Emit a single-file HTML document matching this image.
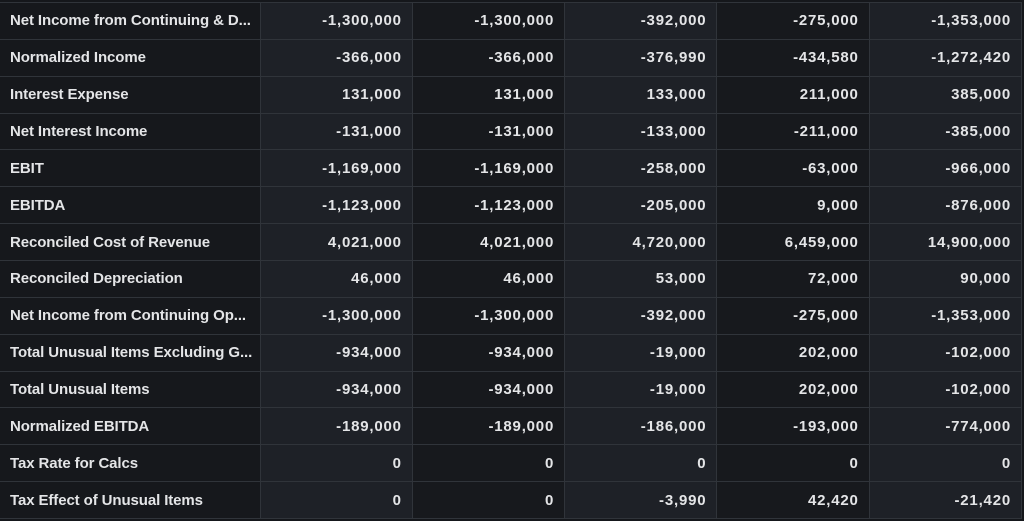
<!DOCTYPE html>
<html><head><style>
html,body{margin:0;padding:0;background:#15171b;width:1024px;height:521px;overflow:hidden;position:relative}
.r{position:absolute;left:0;width:1022px;height:36.86px;border-top:1px solid #30343a;box-sizing:border-box;display:flex;font-family:"Liberation Sans",sans-serif;font-size:15px;font-weight:bold;color:#e4e5e7}
.r div{height:100%;box-sizing:border-box;border-right:1px solid #30343a;display:flex;align-items:center;justify-content:flex-end;padding:0 10px;white-space:nowrap;overflow:hidden;letter-spacing:0.8px}
.r div:first-child{width:260.5px;justify-content:flex-start;background:#16181c;letter-spacing:-0.1px}
.r div:nth-child(n+2){width:152.3px}
.r div:nth-child(even){background:#1e2127}
.r div:nth-child(odd):not(:first-child){background:#17191d}
.end{position:absolute;left:0;top:518px;width:1022px;border-top:1px solid #30343a}
</style></head><body>
<div class="r" style="top:2px"><div>Net Income from Continuing &amp; D...</div><div>-1,300,000</div><div>-1,300,000</div><div>-392,000</div><div>-275,000</div><div>-1,353,000</div></div>
<div class="r" style="top:38.86px"><div>Normalized Income</div><div>-366,000</div><div>-366,000</div><div>-376,990</div><div>-434,580</div><div>-1,272,420</div></div>
<div class="r" style="top:75.72px"><div>Interest Expense</div><div>131,000</div><div>131,000</div><div>133,000</div><div>211,000</div><div>385,000</div></div>
<div class="r" style="top:112.58px"><div>Net Interest Income</div><div>-131,000</div><div>-131,000</div><div>-133,000</div><div>-211,000</div><div>-385,000</div></div>
<div class="r" style="top:149.44px"><div>EBIT</div><div>-1,169,000</div><div>-1,169,000</div><div>-258,000</div><div>-63,000</div><div>-966,000</div></div>
<div class="r" style="top:186.3px"><div>EBITDA</div><div>-1,123,000</div><div>-1,123,000</div><div>-205,000</div><div>9,000</div><div>-876,000</div></div>
<div class="r" style="top:223.16px"><div>Reconciled Cost of Revenue</div><div>4,021,000</div><div>4,021,000</div><div>4,720,000</div><div>6,459,000</div><div>14,900,000</div></div>
<div class="r" style="top:260.02px"><div>Reconciled Depreciation</div><div>46,000</div><div>46,000</div><div>53,000</div><div>72,000</div><div>90,000</div></div>
<div class="r" style="top:296.88px"><div>Net Income from Continuing Op...</div><div>-1,300,000</div><div>-1,300,000</div><div>-392,000</div><div>-275,000</div><div>-1,353,000</div></div>
<div class="r" style="top:333.74px"><div>Total Unusual Items Excluding G...</div><div>-934,000</div><div>-934,000</div><div>-19,000</div><div>202,000</div><div>-102,000</div></div>
<div class="r" style="top:370.6px"><div>Total Unusual Items</div><div>-934,000</div><div>-934,000</div><div>-19,000</div><div>202,000</div><div>-102,000</div></div>
<div class="r" style="top:407.46px"><div>Normalized EBITDA</div><div>-189,000</div><div>-189,000</div><div>-186,000</div><div>-193,000</div><div>-774,000</div></div>
<div class="r" style="top:444.32px"><div>Tax Rate for Calcs</div><div>0</div><div>0</div><div>0</div><div>0</div><div>0</div></div>
<div class="r" style="top:481.18px"><div>Tax Effect of Unusual Items</div><div>0</div><div>0</div><div>-3,990</div><div>42,420</div><div>-21,420</div></div>
<div class="end"></div>
</body></html>
